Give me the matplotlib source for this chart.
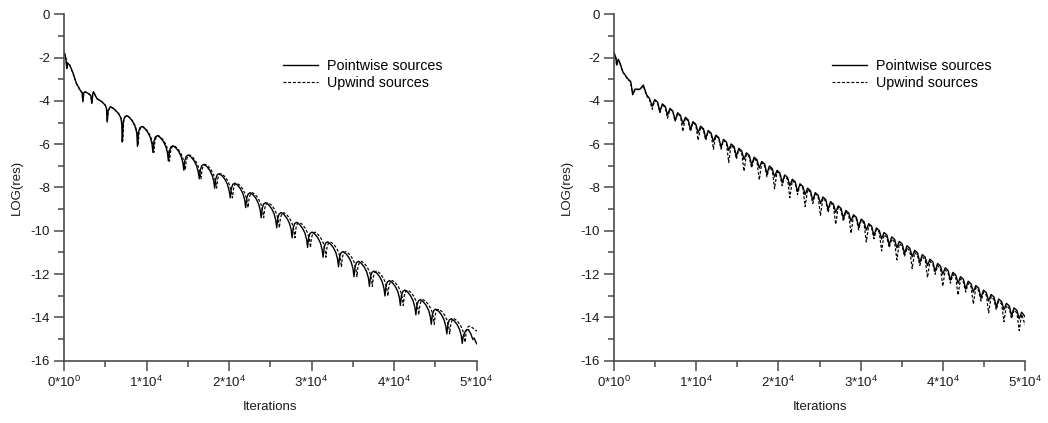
import matplotlib.pyplot as plt
from matplotlib.ticker import MultipleLocator

plt.rcParams['font.family'] = ['Liberation Sans', 'DejaVu Sans']
plt.rcParams['mathtext.fontset'] = 'custom'
plt.rcParams['mathtext.rm'] = 'Liberation Sans'
plt.rcParams['axes.unicode_minus'] = False

# ---- left panel, pointwise sources (solid) ----
left_pw_iter = [
    0, 120, 250, 330, 420, 520, 700, 1100, 1500, 1950, 2200, 2276, 2400, 2560, 2960, 3250, 3370, 3480, 3570,
    3980, 4590, 5000, 5150,
    5230, 5350, 5600, 6000, 6600, 6900, 7000,
    7060, 7190, 7360, 7610, 7960, 8310, 8610, 8820,
    8900, 9030, 9200, 9450, 9800, 10150, 10450, 10660,
    10780, 10910, 11080, 11330, 11680, 12030, 12330, 12540,
    12650, 12780, 12950, 13200, 13550, 13900, 14200, 14410,
    14520, 14650, 14820, 15070, 15420, 15770, 16070, 16280,
    16400, 16530, 16700, 16950, 17300, 17650, 17950, 18160,
    18260, 18390, 18560, 18810, 19160, 19510, 19810, 20020,
    20150, 20280, 20450, 20700, 21050, 21400, 21700, 21910,
    22020, 22150, 22320, 22570, 22920, 23270, 23570, 23780,
    23900, 24030, 24200, 24450, 24800, 25150, 25450, 25660,
    25780, 25910, 26080, 26330, 26680, 27030, 27330, 27540,
    27650, 27780, 27950, 28200, 28550, 28900, 29200, 29410,
    29520, 29650, 29820, 30070, 30420, 30770, 31070, 31280,
    31400, 31530, 31700, 31950, 32300, 32650, 32950, 33160,
    33270, 33400, 33570, 33820, 34170, 34520, 34820, 35030,
    35150, 35280, 35450, 35700, 36050, 36400, 36700, 36910,
    37020, 37150, 37320, 37570, 37920, 38270, 38570, 38780,
    38900, 39030, 39200, 39450, 39800, 40150, 40450, 40660,
    40770, 40900, 41070, 41320, 41670, 42020, 42320, 42530,
    42650, 42780, 42950, 43200, 43550, 43900, 44200, 44410,
    44520, 44650, 44820, 45070, 45420, 45770, 46070, 46280,
    46400, 46530, 46700, 46950, 47300, 47650, 47950, 48160,
    48270, 48400, 48700, 49000, 49300, 49550, 49700, 50000, 50100]
left_pw_log = [
    -1.78, -1.85, -2.12, -2.50, -2.24, -2.30, -2.35, -2.73, -3.19, -3.50, -3.62, -4.04, -3.62, -3.58, -3.66, -3.75,
    -4.12, -3.70, -3.58, -3.89, -4.04, -4.20, -4.35,
    -4.98, -4.45, -4.27, -4.35, -4.58, -4.80, -5.10,
    -5.90, -4.93, -4.74, -4.68, -4.78, -4.95, -5.18, -5.48,
    -6.10, -5.43, -5.24, -5.18, -5.28, -5.45, -5.68, -5.98,
    -6.38, -5.85, -5.66, -5.60, -5.70, -5.87, -6.10, -6.40,
    -6.78, -6.32, -6.13, -6.07, -6.17, -6.34, -6.57, -6.87,
    -7.20, -6.75, -6.56, -6.50, -6.60, -6.77, -7.00, -7.30,
    -7.60, -7.18, -6.99, -6.93, -7.03, -7.20, -7.43, -7.73,
    -8.03, -7.61, -7.42, -7.36, -7.46, -7.63, -7.86, -8.16,
    -8.48, -8.05, -7.86, -7.80, -7.90, -8.07, -8.30, -8.60,
    -8.93, -8.49, -8.30, -8.24, -8.34, -8.51, -8.74, -9.04,
    -9.40, -8.95, -8.76, -8.70, -8.80, -8.97, -9.20, -9.50,
    -9.86, -9.41, -9.22, -9.16, -9.26, -9.43, -9.66, -9.96,
    -10.32, -9.86, -9.67, -9.61, -9.71, -9.88, -10.11, -10.41,
    -10.77, -10.31, -10.12, -10.06, -10.16, -10.33, -10.56, -10.86,
    -11.22, -10.76, -10.57, -10.51, -10.61, -10.78, -11.01, -11.31,
    -11.67, -11.21, -11.02, -10.96, -11.06, -11.23, -11.46, -11.76,
    -12.12, -11.66, -11.47, -11.41, -11.51, -11.68, -11.91, -12.21,
    -12.57, -12.11, -11.92, -11.86, -11.96, -12.13, -12.36, -12.66,
    -13.01, -12.55, -12.36, -12.30, -12.40, -12.57, -12.80, -13.10,
    -13.45, -12.99, -12.80, -12.74, -12.84, -13.01, -13.24, -13.54,
    -13.88, -13.43, -13.24, -13.18, -13.28, -13.45, -13.68, -13.98,
    -14.32, -13.87, -13.68, -13.62, -13.72, -13.89, -14.12, -14.42,
    -14.76, -14.31, -14.12, -14.06, -14.16, -14.33, -14.56, -14.86,
    -15.20, -14.85, -14.60, -14.56, -14.75, -15.02, -14.95, -15.20, -15.25]

# ---- left panel, upwind sources (dashed) ----
left_up_iter = [
    0, 120, 250, 330, 420, 520, 700, 1100, 1500, 1950, 2200, 2276, 2400, 2560, 2960, 3250, 3370, 3480, 3570,
    3980, 4590, 5000, 5150,
    5240, 5360, 5620, 6020, 6620, 6930, 7040,
    7110, 7240, 7410, 7660, 8010, 8360, 8660, 8870,
    8980, 9110, 9280, 9530, 9880, 10230, 10530, 10740,
    10890, 11020, 11190, 11440, 11790, 12140, 12440, 12650,
    12790, 12920, 13090, 13340, 13690, 14040, 14340, 14550,
    14690, 14820, 14990, 15240, 15590, 15940, 16240, 16450,
    16600, 16730, 16900, 17150, 17500, 17850, 18150, 18360,
    18490, 18620, 18790, 19040, 19390, 19740, 20040, 20250,
    20410, 20540, 20710, 20960, 21310, 21660, 21960, 22170,
    22300, 22430, 22600, 22850, 23200, 23550, 23850, 24060,
    24200, 24330, 24500, 24750, 25100, 25450, 25750, 25960,
    26100, 26230, 26400, 26650, 27000, 27350, 27650, 27860,
    27990, 28120, 28290, 28540, 28890, 29240, 29540, 29750,
    29870, 30000, 30170, 30420, 30770, 31120, 31420, 31630,
    31750, 31880, 32050, 32300, 32650, 33000, 33300, 33510,
    33620, 33750, 33920, 34170, 34520, 34870, 35170, 35380,
    35500, 35630, 35800, 36050, 36400, 36750, 37050, 37260,
    37370, 37500, 37670, 37920, 38270, 38620, 38920, 39130,
    39250, 39380, 39550, 39800, 40150, 40500, 40800, 41010,
    41120, 41250, 41420, 41670, 42020, 42370, 42670, 42880,
    43000, 43130, 43300, 43550, 43900, 44250, 44550, 44760,
    44870, 45000, 45170, 45420, 45770, 46120, 46420, 46630,
    46750, 46880, 47050, 47300, 47650, 48000, 48300, 48510,
    48620, 48750, 48920, 49170, 49520, 49870, 50100]
left_up_log = [
    -1.78, -1.86, -2.13, -2.48, -2.25, -2.31, -2.36, -2.74, -3.20, -3.51, -3.63, -4.00, -3.63, -3.59, -3.67, -3.76,
    -4.08, -3.71, -3.59, -3.90, -4.05, -4.21, -4.36,
    -4.95, -4.46, -4.28, -4.36, -4.59, -4.81, -5.10,
    -5.85, -4.93, -4.74, -4.68, -4.78, -4.95, -5.18, -5.48,
    -6.05, -5.43, -5.24, -5.18, -5.28, -5.45, -5.68, -5.98,
    -6.38, -5.85, -5.66, -5.60, -5.70, -5.87, -6.10, -6.40,
    -6.78, -6.32, -6.13, -6.07, -6.17, -6.34, -6.57, -6.87,
    -7.20, -6.75, -6.56, -6.50, -6.60, -6.77, -7.00, -7.30,
    -7.60, -7.18, -6.99, -6.93, -7.03, -7.20, -7.43, -7.73,
    -8.03, -7.61, -7.42, -7.36, -7.46, -7.63, -7.86, -8.16,
    -8.48, -8.05, -7.86, -7.80, -7.90, -8.07, -8.30, -8.60,
    -8.93, -8.49, -8.30, -8.24, -8.34, -8.51, -8.74, -9.04,
    -9.40, -8.95, -8.76, -8.70, -8.80, -8.97, -9.20, -9.50,
    -9.86, -9.41, -9.22, -9.16, -9.26, -9.43, -9.66, -9.96,
    -10.32, -9.86, -9.67, -9.61, -9.71, -9.88, -10.11, -10.41,
    -10.77, -10.31, -10.12, -10.06, -10.16, -10.33, -10.56, -10.86,
    -11.22, -10.76, -10.57, -10.51, -10.61, -10.78, -11.01, -11.31,
    -11.67, -11.21, -11.02, -10.96, -11.06, -11.23, -11.46, -11.76,
    -12.12, -11.66, -11.47, -11.41, -11.51, -11.68, -11.91, -12.21,
    -12.57, -12.11, -11.92, -11.86, -11.96, -12.13, -12.36, -12.66,
    -13.01, -12.55, -12.36, -12.30, -12.40, -12.57, -12.80, -13.10,
    -13.45, -12.99, -12.80, -12.74, -12.84, -13.01, -13.24, -13.54,
    -13.88, -13.43, -13.24, -13.18, -13.28, -13.45, -13.68, -13.98,
    -14.32, -13.87, -13.68, -13.62, -13.72, -13.89, -14.12, -14.42,
    -14.76, -14.31, -14.12, -14.06, -14.16, -14.33, -14.56, -14.86,
    -15.15, -14.62, -14.45, -14.40, -14.48, -14.60, -14.64]

# ---- right panel (both series share the iteration samples) ----
right_iter = [
    0, 240, 320, 520, 730, 1060, 1340, 1620, 2030, 2270, 2550, 3160, 3560, 3770, 3980, 4300,
    4650, 4950, 5300, 5580, 5880, 6230, 6510, 6810, 7160, 7440, 7740, 8090,
    8370, 8670, 9020, 9300, 9600, 9950, 10230, 10530, 10880, 11160, 11460, 11810,
    12090, 12390, 12740, 13020, 13320, 13670, 13950, 14250, 14600, 14880, 15180, 15530,
    15810, 16110, 16460, 16740, 17040, 17390, 17670, 17970, 18320, 18600, 18900, 19250,
    19530, 19830, 20180, 20460, 20760, 21110, 21390, 21690, 22040, 22320, 22620, 22970,
    23250, 23550, 23900, 24180, 24480, 24830, 25110, 25410, 25760, 26040, 26340, 26690,
    26970, 27270, 27620, 27900, 28200, 28550, 28830, 29130, 29480, 29760, 30060, 30410,
    30690, 30990, 31340, 31620, 31920, 32270, 32550, 32850, 33200, 33480, 33780, 34130,
    34410, 34710, 35060, 35340, 35640, 35990, 36270, 36570, 36920, 37200, 37500, 37850,
    38130, 38430, 38780, 39060, 39360, 39710, 39990, 40290, 40640, 40920, 41220, 41570,
    41850, 42150, 42500, 42780, 43080, 43430, 43710, 44010, 44360, 44640, 44940, 45290,
    45570, 45870, 46220, 46500, 46800, 47150, 47430, 47730, 48080, 48360, 48660, 49010,
    49290, 49590, 50000]
right_pw_log = [
    -1.77, -2.03, -2.34, -2.08, -2.26, -2.65, -2.80, -2.96, -3.11, -3.70, -3.46, -3.46, -3.27, -3.50, -3.73, -3.88,
    -4.24, -3.94, -4.06, -4.50, -4.14, -4.26, -4.65, -4.35, -4.47, -4.91, -4.55, -4.67,
    -5.06, -4.76, -4.88, -5.32, -4.96, -5.08, -5.47, -5.17, -5.29, -5.73, -5.37, -5.49,
    -5.88, -5.58, -5.70, -6.14, -5.78, -5.90, -6.29, -5.99, -6.11, -6.55, -6.19, -6.31,
    -6.70, -6.40, -6.52, -6.96, -6.60, -6.72, -7.10, -6.80, -6.92, -7.37, -7.01, -7.13,
    -7.51, -7.21, -7.33, -7.78, -7.42, -7.54, -7.92, -7.62, -7.74, -8.19, -7.83, -7.95,
    -8.33, -8.03, -8.15, -8.60, -8.24, -8.36, -8.74, -8.44, -8.56, -9.01, -8.65, -8.77,
    -9.15, -8.85, -8.97, -9.42, -9.06, -9.18, -9.56, -9.26, -9.38, -9.82, -9.46, -9.58,
    -9.97, -9.67, -9.79, -10.23, -9.87, -9.99, -10.38, -10.08, -10.20, -10.64, -10.28, -10.40,
    -10.79, -10.49, -10.61, -11.05, -10.69, -10.81, -11.20, -10.90, -11.02, -11.46, -11.10, -11.22,
    -11.61, -11.31, -11.43, -11.87, -11.51, -11.63, -12.01, -11.71, -11.83, -12.28, -11.92, -12.04,
    -12.42, -12.12, -12.24, -12.69, -12.33, -12.45, -12.83, -12.53, -12.65, -13.10, -12.74, -12.86,
    -13.24, -12.94, -13.06, -13.51, -13.15, -13.27, -13.65, -13.35, -13.47, -13.92, -13.56, -13.68,
    -14.06, -13.76, -13.97]
right_up_log = [
    -1.77, -2.05, -2.38, -2.10, -2.28, -2.67, -2.82, -2.98, -3.13, -3.72, -3.48, -3.48, -3.30, -3.55, -3.78, -3.92,
    -4.39, -3.97, -4.11, -4.54, -4.17, -4.31, -4.80, -4.38, -4.52, -4.95, -4.58, -4.72,
    -5.41, -4.79, -4.93, -5.41, -4.99, -5.13, -5.82, -5.20, -5.34, -5.82, -5.40, -5.54,
    -6.23, -5.61, -5.75, -6.23, -5.81, -5.95, -6.84, -6.05, -6.19, -6.69, -6.25, -6.39,
    -7.25, -6.46, -6.60, -7.10, -6.66, -6.80, -7.65, -6.86, -7.00, -7.51, -7.07, -7.21,
    -8.06, -7.27, -7.41, -7.92, -7.48, -7.62, -8.47, -7.68, -7.82, -8.33, -7.89, -8.03,
    -8.88, -8.09, -8.23, -8.74, -8.30, -8.44, -9.29, -8.50, -8.64, -9.15, -8.71, -8.85,
    -9.70, -8.91, -9.05, -9.56, -9.12, -9.26, -10.11, -9.32, -9.46, -9.96, -9.52, -9.66,
    -10.52, -9.73, -9.87, -10.37, -9.93, -10.07, -10.93, -10.18, -10.32, -10.78, -10.38, -10.52,
    -11.34, -10.59, -10.73, -11.19, -10.79, -10.93, -11.75, -11.00, -11.14, -11.60, -11.20, -11.34,
    -12.16, -11.41, -11.55, -12.01, -11.61, -11.75, -12.56, -11.81, -11.95, -12.42, -12.02, -12.16,
    -12.97, -12.22, -12.36, -12.83, -12.43, -12.57, -13.38, -12.63, -12.77, -13.24, -12.84, -12.98,
    -13.79, -13.04, -13.18, -13.65, -13.25, -13.39, -14.20, -13.45, -13.59, -14.06, -13.66, -13.80,
    -14.61, -13.86, -14.35]

series_labels = ['Pointwise sources', 'Upwind sources']
x_ticks = [0, 10000, 20000, 30000, 40000, 50000]
x_ticklabels = ['0*10$^{0}$', '1*10$^{4}$', '2*10$^{4}$', '3*10$^{4}$', '4*10$^{4}$', '5*10$^{4}$']
y_ticks = [0, -2, -4, -6, -8, -10, -12, -14, -16]

axis_col = '#4a4a4a'
text_col = '#1a1a1a'

fig = plt.figure(figsize=(10.48, 4.23), dpi=100)
ax1 = fig.add_axes([0.0611, 0.1473, 0.3936, 0.819])
ax2 = fig.add_axes([0.5859, 0.1473, 0.3922, 0.819])


def style_axes(ax):
    ax.set_xlim(0, 50000)
    ax.set_ylim(-16, 0)
    for side in ['top', 'right']:
        ax.spines[side].set_visible(False)
    for side in ['left', 'bottom']:
        ax.spines[side].set_color(axis_col)
        ax.spines[side].set_linewidth(1.2)
    ax.set_xticks(x_ticks)
    ax.set_xticklabels(x_ticklabels)
    ax.set_yticks(y_ticks)
    ax.xaxis.set_minor_locator(MultipleLocator(5000))
    ax.yaxis.set_minor_locator(MultipleLocator(1))
    ax.tick_params(which='major', length=7, width=1.1, color=axis_col, labelsize=9.5,
                   labelcolor=text_col, direction='out', pad=3)
    ax.tick_params(which='minor', length=4, width=1.1, color=axis_col, direction='out')
    ax.set_xlabel('Iterations', fontsize=9.5, color=text_col, labelpad=8)
    ax.set_ylabel('LOG(res)', fontsize=9.5, color=text_col, labelpad=5.5)
    ax.legend(loc='upper left', bbox_to_anchor=(0.531, 0.872), frameon=False, fontsize=10.3,
              handlelength=2.45, handletextpad=0.62, labelspacing=0.27, borderpad=0, borderaxespad=0)


ax1.plot(left_pw_iter, left_pw_log, color='black', lw=1.0, label=series_labels[0])
ax1.plot(left_up_iter, left_up_log, color='black', lw=0.85, ls=(0, (2.5, 1.5)), label=series_labels[1])
style_axes(ax1)

ax2.plot(right_iter, right_pw_log, color='black', lw=1.0, label=series_labels[0])
ax2.plot(right_iter, right_up_log, color='black', lw=0.85, ls=(0, (2.5, 1.5)), label=series_labels[1])
style_axes(ax2)

fig.savefig('out.png', dpi=100)
